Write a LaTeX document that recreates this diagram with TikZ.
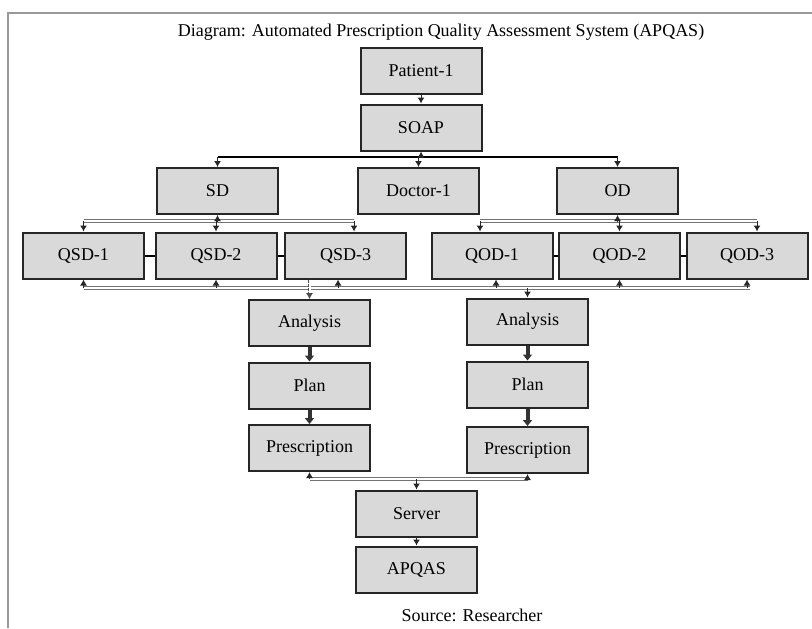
\documentclass[tikz,border=0pt]{standalone}
\usepackage{fontspec}
\setmainfont{Liberation Serif}
\usetikzlibrary{arrows.meta,positioning,shapes}

\begin{document}
\begin{tikzpicture}[x=0.5pt, y=-0.5pt, thick, font=\fontsize{9}{11}\selectfont]

	\tikzstyle{box}=[rectangle, fill=black!15, draw=black!85, line width=1pt, minimum width=60.5pt, minimum height=23pt, inner sep=0pt]
	\tikzstyle{bus}=[draw=black!55, line width=0.5pt, double=white, double distance=0.8pt]
	\tikzstyle{dot}=[-{Latex[length=3pt,width=3.5pt]}, line width=0.5pt, black!85]
	\tikzstyle{link}=[black, line width=1pt]
	\tikzstyle{flow}=[-{Triangle[length=3pt,width=4.5pt]}, line width=2pt, black!80]

	\useasboundingbox (0,0) rectangle (812,628);
	\draw[black!40, line width=1.2pt] (8,628) -- (8,13) -- (812,13);

	\node (title) at (441,32) {Diagram: Automated Prescription Quality Assessment System (APQAS)};

	\node[box] (pat) at (421,70.5) {Patient-1};
	\node[box] (soap) at (421,127.5) {SOAP};

	\node[box] (sd) at (217.5,191) {SD};
	\node[box] (doc) at (418.5,191) {Doctor-1};
	\node[box] (od) at (617.5,191) {OD};

	\node[box] (qs1) at (83.5,255.5) {QSD-1};
	\node[box] (qs2) at (216,255.5) {QSD-2};
	\node[box] (qs3) at (345.5,255.5) {QSD-3};
	\node[box] (qo1) at (492,255.5) {QOD-1};
	\node[box] (qo2) at (619.5,255.5) {QOD-2};
	\node[box] (qo3) at (747,255.5) {QOD-3};

	\node[box] (an1) at (309.5,323) {Analysis};
	\node[box] (pl1) at (309.5,385.5) {Plan};
	\node[box] (pr1) at (309.5,448) {Prescription};
	\node[box] (an2) at (527.5,321.5) {Analysis};
	\node[box] (pl2) at (527.5,384.5) {Plan};
	\node[box] (pr2) at (527.5,450) {Prescription};

	\node[box] (srv) at (416.5,513.5) {Server};
	\node[box] (apq) at (416.5,569.5) {APQAS};

	\node (src) at (472,615) {Source: Researcher};

	% patient to soap, soap to the three boxes
	\coordinate (b1) at (421,157);
	\draw[dot] (pat) -- (soap);
	\draw[link] (sd.north |- b1) -- (od.north |- b1);
	\draw[dot] (b1) -- (soap);
	\draw[dot] (b1 -| sd) -- (sd);
	\draw[dot] (b1 -| doc) -- (doc);
	\draw[dot] (b1 -| od) -- (od);

	% SD and OD to their items
	\coordinate (b2) at (217.5,221);
	\coordinate (b3) at (617.5,221);
	\draw[bus] (b2 -| qs1) -- ([xshift=4.25pt]b2 -| qs3);
	\draw[dot] (b2) -- (sd);
	\draw[dot] (b2 -| qs1) -- (qs1);
	\draw[dot] (b2 -| qs2) -- (qs2);
	\draw[dot] ([xshift=4.25pt]b2 -| qs3) -- ([xshift=4.25pt]qs3.north);
	\draw[bus] ([xshift=-6pt]b3 -| qo1) -- ([xshift=5pt]b3 -| qo3);
	\draw[dot] (b3) -- (od);
	\draw[dot] ([xshift=-6pt]b3 -| qo1) -- ([xshift=-6pt]qo1.north);
	\draw[dot] (b3 -| qo2) -- (qo2);
	\draw[dot] ([xshift=5pt]b3 -| qo3) -- ([xshift=5pt]qo3.north);

	\draw[link] (qs1) -- (qs2);
	\draw[link] (qs2) -- (qs3);
	\draw[link] (qo1) -- (qo2);
	\draw[link] (qo2) -- (qo3);

	% common line under the items
	\coordinate (b4) at (420,288);
	\draw[bus] (b4 -| qs1) -- ([xshift=1.5pt]b4 -| qo3);
	\draw[dot] (b4 -| qs1) -- (qs1);
	\draw[dot] (b4 -| qs2) -- (qs2);
	\draw[dot] ([xshift=-3.75pt]b4 -| qs3) -- ([xshift=-3.75pt]qs3.south);
	\draw[dot] ([xshift=2pt]b4 -| qo1) -- ([xshift=2pt]qo1.south);
	\draw[dot] (b4 -| qo2) -- (qo2);
	\draw[dot] (b4 -| qo3) -- (qo3);
	\draw[dot] (b4 -| an2) -- (an2);
	\draw[-{Latex[length=3pt,width=3.5pt]}, draw=black!70, line width=0.4pt, double=white, double distance=1pt, dash pattern=on 1.5pt off 0.6pt] (qs3.south -| an1) -- (an1);

	\draw[flow] (an1) -- (pl1);
	\draw[flow] (pl1) -- (pr1);
	\draw[flow] (an2) -- (pl2);
	\draw[flow] (pl2) -- (pr2);

	% both prescriptions to server
	\coordinate (b5) at (416.5,479);
	\draw[bus] (b5 -| pr1) -- (b5 -| pr2);
	\draw[dot] (b5 -| pr1) -- (pr1);
	\draw[dot] (b5 -| pr2) -- (pr2);
	\draw[dot] (b5) -- (srv);
	\draw[dot] (srv) -- (apq);

\end{tikzpicture}
\end{document}
